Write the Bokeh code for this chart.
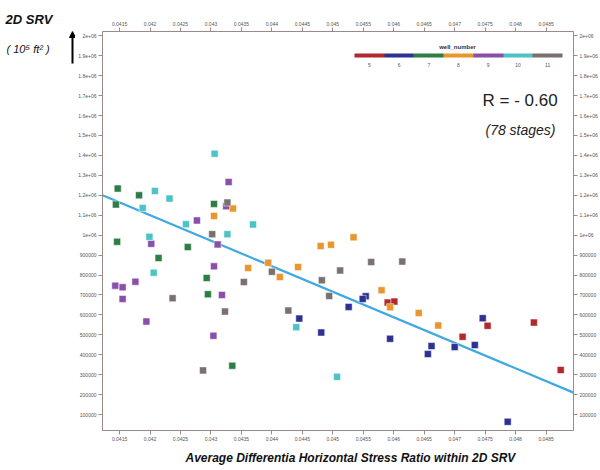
from bokeh.plotting import figure
from bokeh.layouts import row
from bokeh.models import (ColumnDataSource, LinearColorMapper, ColorBar, FixedTicker,
                          LinearAxis, Range1d, Label, Arrow, NormalHead, Title)
from bokeh.embed import file_html
from bokeh.resources import INLINE

# ---------------- data ----------------
WELLS = [5, 6, 7, 8, 9, 10, 11]
WELL_COLORS = ["#b3282d", "#2e3192", "#2e7d45", "#e8962e", "#8a4fa8", "#4cc3c6", "#7a7070"]

W5_X = [0.0459, 0.04601, 0.04754, 0.0483, 0.04713, 0.04874]
W5_Y = [661500, 666500, 545000, 561500, 490000, 323500]
W6_X = [0.04445, 0.04481, 0.04554, 0.04549, 0.04526, 0.04594, 0.04746, 0.04662, 0.04656, 0.047, 0.04733, 0.04787]
W6_Y = [581500, 511500, 693500, 680000, 640000, 480000, 583500, 443500, 403500, 438500, 448500, 63500]
W7_X = [0.04147, 0.04182, 0.04144, 0.04305, 0.04146, 0.04262, 0.04214, 0.04293, 0.04295, 0.04335]
W7_Y = [1233500, 1200000, 1153500, 1156500, 966500, 940000, 885000, 785000, 703500, 345000]
W8_X = [0.04336, 0.04305, 0.04361, 0.04534, 0.0448, 0.04497, 0.04394, 0.04413, 0.04443, 0.0458, 0.04594, 0.04641, 0.04673]
W8_Y = [1133500, 1096500, 835000, 989000, 945000, 951500, 861500, 790000, 840000, 723500, 638500, 610000, 546500]
W9_X = [0.04329, 0.04325, 0.04277, 0.04202, 0.04311, 0.04305, 0.04176, 0.04143, 0.04155, 0.04155, 0.04318, 0.04194, 0.04304]
W9_Y = [1266500, 1145000, 1073500, 956500, 953500, 843500, 766500, 746500, 738500, 680000, 700000, 566500, 495000]
W10_X = [0.04306, 0.04208, 0.04232, 0.04188, 0.04259, 0.04369, 0.04327, 0.04199, 0.04206, 0.0444, 0.04507]
W10_Y = [1408500, 1221500, 1183500, 1136500, 1055000, 1053500, 1005000, 991500, 811500, 538500, 289000]
W11_X = [0.04327, 0.04302, 0.04354, 0.04237, 0.04323, 0.04427, 0.04494, 0.04287, 0.04563, 0.04614, 0.044, 0.04512, 0.04482]
W11_Y = [1163500, 1005000, 765000, 683500, 616500, 621500, 695000, 321500, 865000, 867500, 816500, 822500, 773500]

FIT_X = [0.04122, 0.04895]
FIT_Y = [1200000, 210000]

X_TICKS = [0.0415, 0.042, 0.0425, 0.043, 0.0435, 0.044, 0.0445, 0.045, 0.0455, 0.046,
           0.0465, 0.047, 0.0475, 0.048, 0.0485]
X_TICK_LABELS = ["0.0415", "0.042", "0.0425", "0.043", "0.0435", "0.044", "0.0445", "0.045",
                 "0.0455", "0.046", "0.0465", "0.047", "0.0475", "0.048", "0.0485"]
Y_TICKS = [100000, 200000, 300000, 400000, 500000, 600000, 700000, 800000, 900000, 1000000,
           1100000, 1200000, 1300000, 1400000, 1500000, 1600000, 1700000, 1800000, 1900000, 2000000]
Y_TICK_LABELS = ["100000", "200000", "300000", "400000", "500000", "600000", "700000", "800000",
                 "900000", "1e+06", "1.1e+06", "1.2e+06", "1.3e+06", "1.4e+06", "1.5e+06",
                 "1.6e+06", "1.7e+06", "1.8e+06", "1.9e+06", "2e+06"]

xs, ys, ws = [], [], []
for w, X, Y in [(5, W5_X, W5_Y), (6, W6_X, W6_Y), (7, W7_X, W7_Y), (8, W8_X, W8_Y),
                (9, W9_X, W9_Y), (10, W10_X, W10_Y), (11, W11_X, W11_Y)]:
    xs += X
    ys += Y
    ws += [w] * len(X)
src = ColumnDataSource(dict(x=xs, y=ys, well=ws))

mapper = LinearColorMapper(palette=WELL_COLORS, low=min(WELLS) - 0.5, high=max(WELLS) + 0.5)

FONT = "Liberation Sans"
LEFT_W = 75
TOP_B = 31
BOTTOM_B = 39

# ---------------- left strip: y-axis caption + arrow ----------------
# frame covers canvas rows TOP_B..470-BOTTOM_B; y range inverted so data y == pixel row
side = figure(width=LEFT_W, height=470, output_backend="svg", toolbar_location=None,
              x_range=Range1d(0, LEFT_W), y_range=Range1d(470 - BOTTOM_B, TOP_B),
              x_axis_location=None, y_axis_location=None,
              min_border_left=0, min_border_right=0, min_border_top=TOP_B,
              min_border_bottom=BOTTOM_B)
side.xgrid.visible = False
side.ygrid.visible = False
side.outline_line_color = None
side.add_layout(Title(text="2D SRV", align="left", offset=5, standoff=10,
                      text_font=FONT, text_font_size="13px", text_font_style="bold italic",
                      text_color="#111111"), "above")
side.add_layout(Label(x=6, y=49, text="( 10⁵ ft² )", text_baseline="alphabetic",
                      text_font=FONT, text_font_size="11px", text_font_style="italic",
                      text_color="#111111"))
side.add_layout(Arrow(x_start=72, y_start=63, x_end=72, y_end=31,
                      line_color="black", line_width=2,
                      end=NormalHead(size=6, fill_color="black", line_color="black")))

# ---------------- main plot ----------------
p = figure(width=600 - LEFT_W, height=470, output_backend="svg", toolbar_location=None,
           x_range=Range1d(0.04122, 0.04895), y_range=Range1d(20000, 2021500),
           x_axis_location=None, y_axis_location=None,
           min_border_left=100 - LEFT_W, min_border_right=23, min_border_top=TOP_B,
           min_border_bottom=BOTTOM_B)
p.xgrid.visible = False
p.ygrid.visible = False
p.outline_line_color = None
p.background_fill_color = "white"
p.border_fill_color = "white"


def make_axis(ticks, labels):
    ax = LinearAxis(ticker=FixedTicker(ticks=ticks),
                    major_label_overrides={t: l for t, l in zip(ticks, labels)})
    ax.axis_line_color = "#9a8a8a"
    ax.major_tick_line_color = "#9a8a8a"
    ax.major_tick_out = 4
    ax.major_tick_in = 0
    ax.minor_tick_line_color = None
    ax.major_label_text_font = FONT
    ax.major_label_text_font_size = "5px"
    ax.major_label_text_color = "#555555"
    ax.major_label_standoff = 2
    return ax


p.add_layout(make_axis(X_TICKS, X_TICK_LABELS), "below")
p.add_layout(make_axis(X_TICKS, X_TICK_LABELS), "above")
p.add_layout(make_axis(Y_TICKS, Y_TICK_LABELS), "left")
p.add_layout(make_axis(Y_TICKS, Y_TICK_LABELS), "right")

p.add_layout(Title(text="Average Differentia Horizontal Stress Ratio within 2D SRV",
                   align="left", offset=83, standoff=11,
                   text_font=FONT, text_font_size="12px", text_font_style="bold italic",
                   text_color="#111111"), "below")

p.line(FIT_X, FIT_Y, line_color="#3fa9e0", line_width=2.2)
p.scatter("x", "y", source=src, marker="square", size=7,
          fill_color={"field": "well", "transform": mapper},
          line_color="white", line_alpha=0.5, line_width=1)

cb = ColorBar(color_mapper=mapper, orientation="horizontal", width=208, height=4,
              location=(250, 359), padding=2, ticker=FixedTicker(ticks=WELLS),
              major_label_text_font=FONT, major_label_text_font_size="5px",
              major_label_text_color="#555555", major_tick_line_color=None,
              bar_line_color=None, background_fill_alpha=0, border_line_color=None)
p.add_layout(cb, "center")
p.add_layout(Label(x=355, y=381, x_units="screen", y_units="screen", text="well_number",
                   text_align="center", text_font=FONT, text_font_size="6px",
                   text_font_style="bold", text_color="#333333"))

p.add_layout(Label(x=380, y=321, x_units="screen", y_units="screen", text="R = - 0.60",
                   text_font=FONT, text_font_size="17px", text_color="#222222"))
p.add_layout(Label(x=383, y=293, x_units="screen", y_units="screen", text="(78 stages)",
                   text_font=FONT, text_font_size="14px", text_font_style="italic",
                   text_color="#222222"))

layout = row(side, p)
open("out.html", "w").write(file_html(layout, INLINE))
